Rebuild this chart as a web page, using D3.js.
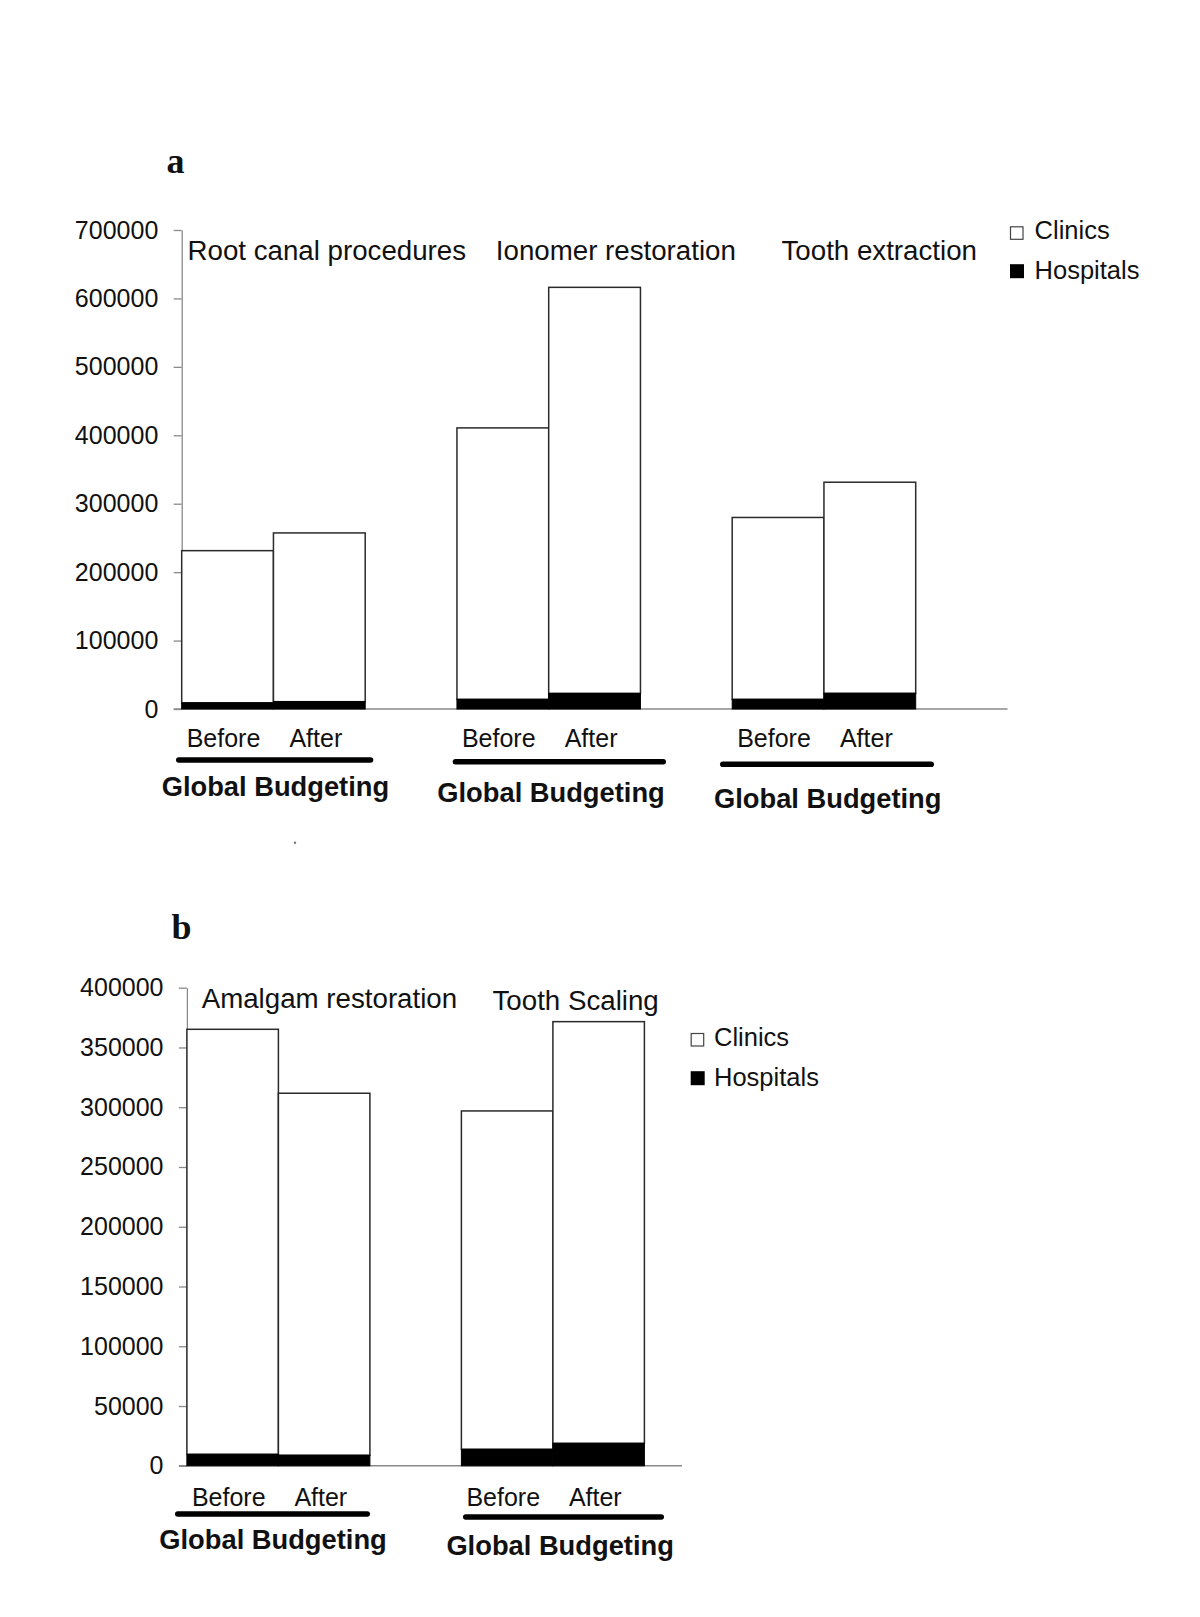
<!DOCTYPE html>
<html><head><meta charset="utf-8">
<script src="https://cdn.jsdelivr.net/npm/d3@7"></script>
<style>body{margin:0;background:#fff} svg{display:block}</style>
</head><body>
<svg id="chart" width="1200" height="1617"></svg>
<script>
// ---------- data ----------
const periods = ["Before", "After"];
const seriesNames = ["Clinics", "Hospitals"];
const groupLabel = "Global Budgeting";

const panelACategories = ["Root canal procedures", "Ionomer restoration", "Tooth extraction"];
const panelAHospitals = [[9000, 10700], [14100, 22800], [14100, 22900]];
const panelAClinics = [[222400, 246600], [396700, 593400], [265800, 308500]];
const panelATicks = [0, 100000, 200000, 300000, 400000, 500000, 600000, 700000];

const panelBCategories = ["Amalgam restoration", "Tooth Scaling"];
const panelBHospitals = [[9600, 8800], [13800, 18800]];
const panelBClinics = [[355600, 302900], [283100, 352800]];
const panelBTicks = [0, 50000, 100000, 150000, 200000, 250000, 300000, 350000, 400000];

// ---------- layout ----------
const SANS = "'Liberation Sans', Arial, Helvetica, sans-serif";
const SERIF = "'Liberation Serif', 'Times New Roman', serif";
const INK = "#111";
const AXIS = "#8a8a8a";

const layoutA = {
  letter: "a", letterX: 166.5, letterY: 173,
  left: 181.7, slot: 91.75, axisEnd: 1007.5, y0: 709, yTop: 230,
  catPos: [[187.5, 260], [495.8, 260], [781.5, 259.5]],
  legendX: 1010, legendTextX: 1034.6, legendBase: [239.3, 278.7],
  periodBase: 747.3,
  lines: [[176, 373.3, 760], [452.7, 666, 761.7], [720, 934, 764.3]],
  gbPos: [[161.7, 795.7], [437.3, 801.7], [714, 807.5]]
};
const layoutB = {
  letter: "b", letterX: 171.5, letterY: 939,
  left: 186.9, slot: 91.5, axisEnd: 682, y0: 1465.8, yTop: 987.7,
  catPos: [[201.7, 1008.3], [492.5, 1010]],
  legendX: 690.7, legendTextX: 714, legendBase: [1046, 1085.7],
  periodBase: 1505.7,
  lines: [[175, 370, 1514], [463, 664, 1517]],
  gbPos: [[159.3, 1548.5], [446.4, 1555]]
};

const svg = d3.select("#chart");
svg.append("rect").attr("width", 1200).attr("height", 1617).attr("fill", "#fff");

function drawPanel(categories, hospitals, clinics, ticks, L) {
  const g = svg.append("g");
  const yMax = ticks[ticks.length - 1];
  const y = d3.scaleLinear().domain([0, yMax]).range([L.y0, L.yTop]);
  const x0 = d3.scaleBand().domain(categories)
    .range([L.left, L.left + categories.length * 3 * L.slot]).padding(0);
  const x1 = d3.scaleBand().domain(periods).range([0, 2 * L.slot]).padding(0);

  // panel letter
  g.append("text").attr("x", L.letterX).attr("y", L.letterY)
    .attr("font-family", SERIF).attr("font-weight", "bold").attr("font-size", 36)
    .attr("fill", INK).text(L.letter);

  // y axis
  const yAxis = d3.axisLeft(y).tickValues(ticks).tickSize(8).tickSizeOuter(0)
    .tickPadding(15.4).tickFormat(d3.format("d"));
  const ag = g.append("g").attr("transform", `translate(${L.left},0)`).call(yAxis);
  ag.selectAll("path, line").attr("stroke", AXIS).attr("stroke-width", 1.3);
  ag.selectAll("text").attr("font-family", SANS).attr("font-size", 25).attr("fill", INK);

  // x axis baseline
  g.append("line").attr("x1", L.left - 8).attr("x2", L.axisEnd)
    .attr("y1", y(0)).attr("y2", y(0))
    .attr("stroke", AXIS).attr("stroke-width", 1.5);

  // bars
  const rows = [];
  categories.forEach((c, i) => periods.forEach((p, j) => {
    rows.push({ c, p, h: hospitals[i][j], cl: clinics[i][j] });
  }));
  const bars = g.append("g");
  bars.selectAll("rect.clin").data(rows).join("rect").attr("class", "clin")
    .attr("x", d => x0(d.c) + x1(d.p)).attr("width", x1.bandwidth())
    .attr("y", d => y(d.h + d.cl)).attr("height", d => y(d.h) - y(d.h + d.cl))
    .attr("fill", "#fff").attr("stroke", "#2a2a2a").attr("stroke-width", 1.5);
  bars.selectAll("rect.hosp").data(rows).join("rect").attr("class", "hosp")
    .attr("x", d => x0(d.c) + x1(d.p)).attr("width", x1.bandwidth())
    .attr("y", d => y(d.h)).attr("height", d => y(0) - y(d.h))
    .attr("fill", "#000").attr("stroke", "#000").attr("stroke-width", 1);

  // category labels
  categories.forEach((c, i) => {
    g.append("text").attr("x", L.catPos[i][0]).attr("y", L.catPos[i][1])
      .attr("font-family", SANS).attr("font-size", 27.7).attr("fill", INK).text(c);
  });

  // legend
  g.append("rect").attr("x", L.legendX + 0.5).attr("y", L.legendBase[0] - 12.5)
    .attr("width", 12.5).attr("height", 12.5)
    .attr("fill", "#fff").attr("stroke", "#444").attr("stroke-width", 1.2);
  g.append("rect").attr("x", L.legendX).attr("y", L.legendBase[1] - 14.5)
    .attr("width", 14).attr("height", 14).attr("fill", "#000");
  seriesNames.forEach((s, i) => {
    g.append("text").attr("x", L.legendTextX).attr("y", L.legendBase[i])
      .attr("font-family", SANS).attr("font-size", 25.5).attr("fill", INK).text(s);
  });

  // period labels, group lines, group labels
  categories.forEach((c, i) => {
    g.append("text").attr("x", x0(c) + x1("Before") + 5).attr("y", L.periodBase)
      .attr("font-family", SANS).attr("font-size", 25).attr("fill", INK).text(periods[0]);
    g.append("text").attr("x", x0(c) + x1("After") + 16).attr("y", L.periodBase)
      .attr("font-family", SANS).attr("font-size", 25).attr("fill", INK).text(periods[1]);
    const ln = L.lines[i];
    g.append("line").attr("x1", ln[0] + 2.8).attr("x2", ln[1] - 2.8)
      .attr("y1", ln[2]).attr("y2", ln[2])
      .attr("stroke", "#000").attr("stroke-width", 5.6).attr("stroke-linecap", "round");
    g.append("text").attr("x", L.gbPos[i][0]).attr("y", L.gbPos[i][1])
      .attr("font-family", SANS).attr("font-weight", "bold").attr("font-size", 27.3)
      .attr("fill", INK).text(groupLabel);
  });
}

drawPanel(panelACategories, panelAHospitals, panelAClinics, panelATicks, layoutA);
drawPanel(panelBCategories, panelBHospitals, panelBClinics, panelBTicks, layoutB);

// small stray mark present in the original figure
svg.append("circle").attr("cx", 295).attr("cy", 842.7).attr("r", 1.2).attr("fill", "#777");
</script>
</body></html>
